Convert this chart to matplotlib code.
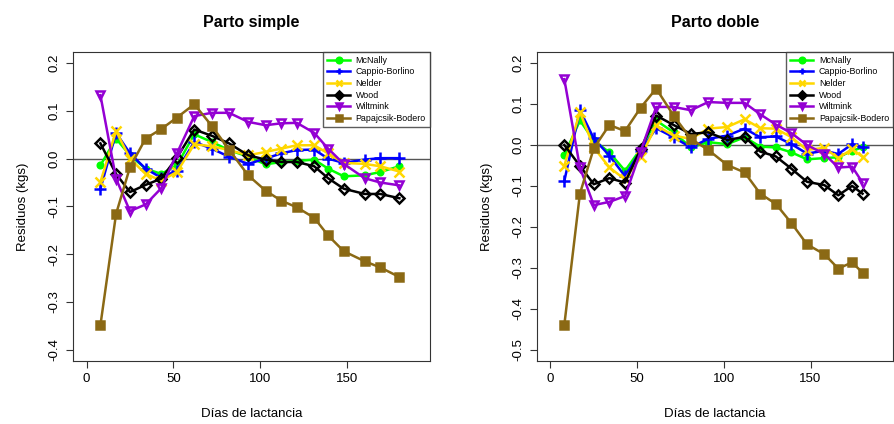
import matplotlib
matplotlib.use("Agg")
from matplotlib import pyplot as plt

plt.rcParams['font.family'] = ['Liberation Sans', 'DejaVu Sans']

# dias de lactancia for each panel
dias_simple = [8, 17, 25, 34, 43, 52, 62, 72, 82, 93, 103, 112, 121, 131, 139, 148, 160, 169, 180]
dias_doble = [8, 17, 25, 34, 43, 52, 61, 71, 81, 91, 102, 112, 121, 130, 139, 148, 158, 166, 174, 180]

# residuos parto simple
mcnally_s = [-0.014, 0.042, 0.007, -0.021, -0.032, -0.014, 0.051, 0.035, 0.018, 0.004, -0.012, -0.007, -0.005, -0.002, -0.021, -0.037, -0.035, -0.028, -0.016]
cappio_s = [-0.063, 0.054, 0.011, -0.021, -0.040, -0.025, 0.035, 0.021, 0.004, -0.011, 0.000, 0.011, 0.018, 0.019, 0.000, -0.009, -0.002, 0.001, 0.001]
nelder_s = [-0.049, 0.058, 0.000, -0.032, -0.046, -0.028, 0.030, 0.026, 0.018, 0.007, 0.014, 0.021, 0.028, 0.028, 0.011, -0.009, -0.011, -0.016, -0.027]
wood_s = [0.032, -0.032, -0.070, -0.055, -0.042, 0.002, 0.061, 0.048, 0.032, 0.007, -0.002, -0.007, -0.007, -0.016, -0.041, -0.063, -0.074, -0.074, -0.083]
wiltmink_s = [0.133, -0.042, -0.110, -0.096, -0.062, 0.011, 0.089, 0.096, 0.096, 0.077, 0.070, 0.074, 0.075, 0.054, 0.021, -0.011, -0.041, -0.050, -0.056]
papa_s = [-0.349, -0.116, -0.018, 0.042, 0.062, 0.086, 0.114, 0.069, 0.019, -0.035, -0.067, -0.088, -0.102, -0.124, -0.161, -0.194, -0.215, -0.228, -0.248]

# residuos parto doble
mcnally_d = [-0.025, 0.060, 0.011, -0.018, -0.063, -0.010, 0.060, 0.031, -0.006, 0.007, 0.002, 0.019, -0.004, -0.006, -0.018, -0.035, -0.032, -0.030, -0.014, -0.006]
cappio_d = [-0.088, 0.085, 0.016, -0.026, -0.076, -0.014, 0.041, 0.019, -0.006, 0.015, 0.023, 0.040, 0.019, 0.021, 0.002, -0.021, -0.014, -0.022, 0.002, -0.006]
nelder_d = [-0.051, 0.081, -0.006, -0.055, -0.084, -0.030, 0.048, 0.023, 0.015, 0.040, 0.044, 0.063, 0.041, 0.040, 0.019, -0.012, -0.007, -0.032, -0.010, -0.029]
wood_d = [0.000, -0.051, -0.096, -0.081, -0.092, -0.010, 0.072, 0.049, 0.027, 0.031, 0.012, 0.020, -0.016, -0.028, -0.058, -0.090, -0.098, -0.123, -0.100, -0.119]
wiltmink_d = [0.161, -0.055, -0.147, -0.139, -0.125, -0.016, 0.093, 0.093, 0.085, 0.105, 0.103, 0.103, 0.075, 0.050, 0.029, 0.000, -0.022, -0.055, -0.053, -0.092]
papa_d = [-0.440, -0.119, -0.008, 0.049, 0.034, 0.091, 0.138, 0.072, 0.015, -0.012, -0.049, -0.067, -0.119, -0.144, -0.191, -0.243, -0.267, -0.302, -0.287, -0.312]

nombres = ["McNally", "Cappio-Borlino", "Nelder", "Wood", "Wiltmink", "Papajcsik-Bodero"]
colores = ["#00FF00", "#0000FF", "#FFD700", "#000000", "#9400D3", "#8B6914"]
#marker, size, open marker or not
marcas = [("o", 4, False), ("+", 8, False), ("x", 7, False), ("D", 5, True), ("v", 6, True), ("s", 5.5, False)]


def panel(ax, dias, series, titulo, ymin, yticks):
    for y, nombre, c, (m, ms, abierto) in zip(series, nombres, colores, marcas):
        fc = "none" if abierto else c
        ax.plot(dias, y, color=c, lw=1.8, marker=m, ms=ms, mfc=fc, mec=c, mew=1.8, label=nombre)
    #horizontal line at 0
    ax.axhline(0, color="#555555", lw=1, zorder=0)
    ax.set_xlim(-7.6, 197.6)
    ax.set_ylim(ymin - 0.024 * (0.2 - ymin) / 0.6, 0.2 + 0.024 * (0.2 - ymin) / 0.6)
    ax.set_xticks([0, 50, 100, 150])
    ax.set_yticks(yticks)
    ax.set_yticklabels(["%.1f" % t if abs(t) > 1e-9 else "0.0" for t in yticks], rotation=90, va="center")
    ax.tick_params(labelsize=9.5, length=5, color="#333333", pad=4)
    for s in ax.spines.values():
        s.set_color("#333333")
    ax.set_title(titulo, fontsize=11.5, fontweight="bold", pad=18)
    ax.set_xlabel("Días de lactancia", fontsize=9.5, labelpad=16)
    ax.set_ylabel("Residuos (kgs)", fontsize=9.5, labelpad=14)
    leg = ax.legend(loc="upper right", bbox_to_anchor=(1, 1), borderaxespad=0, fontsize=6.4,
                    frameon=True, fancybox=False, edgecolor="#333333", handlelength=2.6,
                    labelspacing=0.3, borderpad=0.45, handletextpad=0.6)
    leg.get_frame().set_linewidth(1)
    # legend shows filled markers
    for h, c in zip(leg.legend_handles, colores):
        h.set_markerfacecolor(c)
        h.set_markersize(4)


fig = plt.figure(figsize=(8.95, 4.24), dpi=100)
ax1 = fig.add_axes([0.0819, 0.1486, 0.3985, 0.7294])
ax2 = fig.add_axes([0.6003, 0.1486, 0.3975, 0.7294])

panel(ax1, dias_simple, [mcnally_s, cappio_s, nelder_s, wood_s, wiltmink_s, papa_s],
      "Parto simple", -0.4, [-0.4, -0.3, -0.2, -0.1, 0.0, 0.1, 0.2])
panel(ax2, dias_doble, [mcnally_d, cappio_d, nelder_d, wood_d, wiltmink_d, papa_d],
      "Parto doble", -0.5, [-0.5, -0.4, -0.3, -0.2, -0.1, 0.0, 0.1, 0.2])

plt.savefig("out.png", dpi=100)
